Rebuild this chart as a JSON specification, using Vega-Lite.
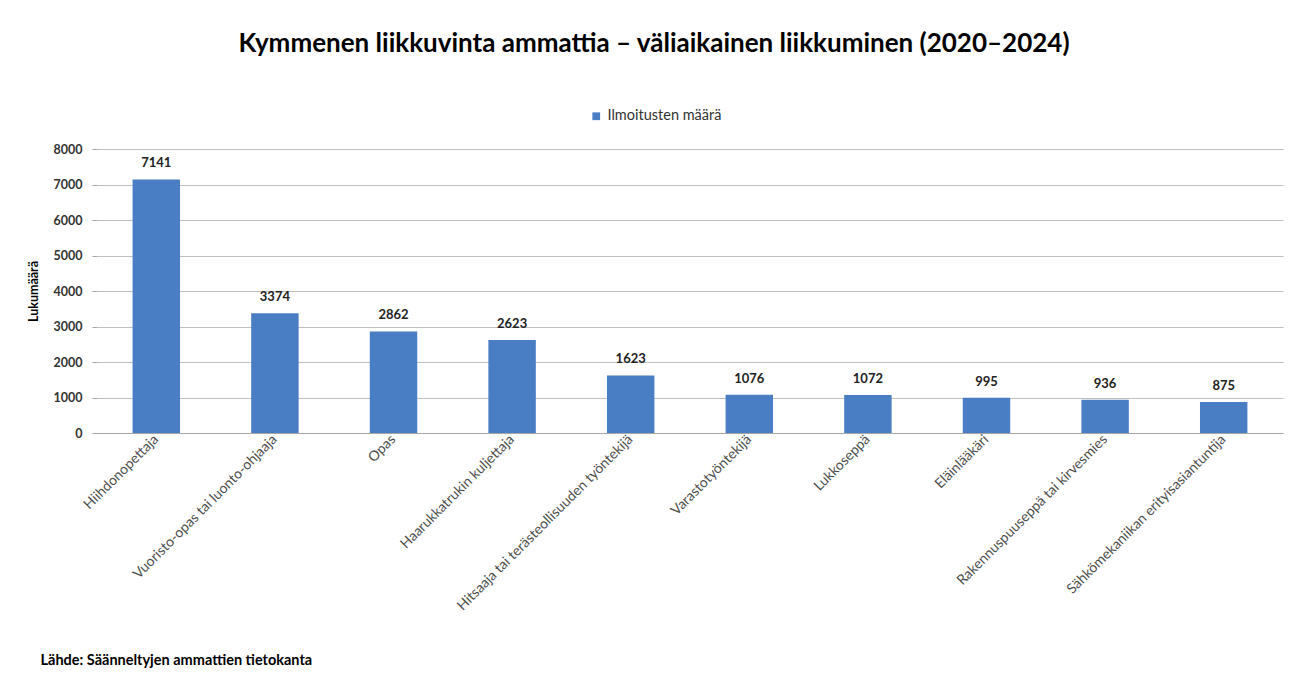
{
  "$schema": "https://vega.github.io/schema/vega-lite/v6.json",
  "width": 1186,
  "height": 284,
  "autosize": "none",
  "padding": {"left": 97, "top": 149, "right": 26, "bottom": 242},
  "background": "white",
  "config": {"font": "Lato", "view": {"stroke": null}},
  "title": {
    "text": "Kymmenen liikkuvinta ammattia – väliaikainen liikkuminen (2020–2024)",
    "font": "Lato", "fontSize": 26, "fontWeight": "bold", "color": "#000000",
    "anchor": "middle", "dx": -36, "offset": 52
  },
  "data": {
    "values": [
      {"ammatti": "Hiihdonopettaja", "maara": 7141, "sarja": "Ilmoitusten määrä"},
      {"ammatti": "Vuoristo-opas tai luonto-ohjaaja", "maara": 3374, "sarja": "Ilmoitusten määrä"},
      {"ammatti": "Opas", "maara": 2862, "sarja": "Ilmoitusten määrä"},
      {"ammatti": "Haarukkatrukin kuljettaja", "maara": 2623, "sarja": "Ilmoitusten määrä"},
      {"ammatti": "Hitsaaja tai terästeollisuuden työntekijä", "maara": 1623, "sarja": "Ilmoitusten määrä"},
      {"ammatti": "Varastotyöntekijä", "maara": 1076, "sarja": "Ilmoitusten määrä"},
      {"ammatti": "Lukkoseppä", "maara": 1072, "sarja": "Ilmoitusten määrä"},
      {"ammatti": "Eläinlääkäri", "maara": 995, "sarja": "Ilmoitusten määrä"},
      {"ammatti": "Rakennuspuuseppä tai kirvesmies", "maara": 936, "sarja": "Ilmoitusten määrä"},
      {"ammatti": "Sähkömekaniikan erityisasiantuntija", "maara": 875, "sarja": "Ilmoitusten määrä"}
    ]
  },
  "encoding": {
    "x": {
      "field": "ammatti", "type": "nominal", "sort": null,
      "scale": {"paddingInner": 0.6, "paddingOuter": 0.3},
      "axis": {
        "title": "Lähde: Säänneltyjen ammattien tietokanta",
        "titleFont": "Lato", "titleFontSize": 14.5, "titleFontWeight": "bold", "titleColor": "#000000",
        "titleAnchor": "start", "titleAlign": "left", "titleX": -57, "titleY": 227, "titleBaseline": "middle",
        "labelAngle": -45, "labelAlign": "right", "labelBaseline": "middle",
        "labelFontSize": 14, "labelColor": "#4d4d4d", "labelLimit": 400, "labelPadding": 4,
        "domainColor": "#a6a6a6", "ticks": false
      }
    },
    "y": {
      "field": "maara", "type": "quantitative",
      "scale": {"domain": [0, 8000]},
      "axis": {
        "title": "Lukumäärä", "titleFontSize": 12.5, "titleFontWeight": "bold", "titleColor": "#000000", "titlePadding": 13,
        "values": [0, 1000, 2000, 3000, 4000, 5000, 6000, 7000, 8000],
        "labelFontSize": 12.5, "labelFontWeight": "bold", "labelColor": "#333333", "labelPadding": 10,
        "domain": false, "tickColor": "#a6a6a6", "tickSize": 5,
        "gridColor": "#bfbfbf", "format": "d"
      }
    }
  },
  "layer": [
    {
      "mark": {"type": "bar"},
      "encoding": {
        "color": {
          "field": "sarja", "type": "nominal",
          "scale": {"range": ["#4a7ec4"]},
          "legend": {
            "title": null, "orient": "none", "legendX": 492, "legendY": -40,
            "symbolType": "square", "symbolSize": 60, "labelFontSize": 14.5, "labelColor": "#333333", "labelOffset": 4
          }
        }
      }
    },
    {
      "mark": {"type": "text", "dy": -16, "fontSize": 13, "fontWeight": "bold", "color": "#222222"},
      "encoding": {"text": {"field": "maara", "type": "quantitative", "format": "d"}}
    }
  ]
}
